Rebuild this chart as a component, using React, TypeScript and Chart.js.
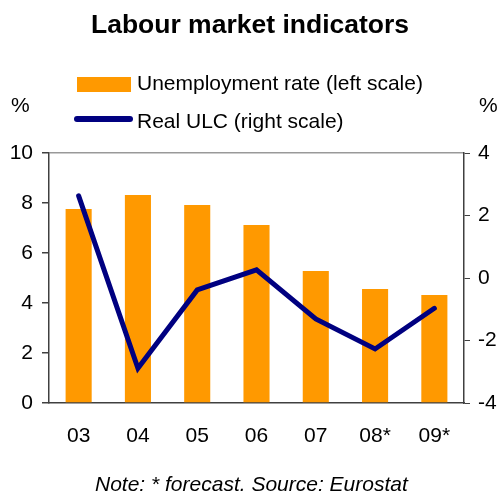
import React, { useEffect, useRef } from "react";
import { Chart, registerables } from "chart.js";

Chart.register(...registerables);

const categories = ["03", "04", "05", "06", "07", "08*", "09*"];
const unemploymentRate = [7.76, 8.32, 7.92, 7.12, 5.28, 4.56, 4.32];
const realULC = [2.63, -2.89, -0.38, 0.26, -1.31, -2.27, -0.97];
const leftTicks = [0, 2, 4, 6, 8, 10];
const rightTicks = [-4, -2, 0, 2, 4];

const TITLE = "Labour market indicators";
const LEGEND_BAR = "Unemployment rate (left scale)";
const LEGEND_LINE = "Real ULC (right scale)";
const NOTE = "Note: * forecast. Source: Eurostat";
const FONT = "'Liberation Sans', Arial, sans-serif";
const ORANGE = "#FF9900";
const NAVY = "#000080";
const AXIS = "#404040";

const decorPlugin = {
  id: "decor",
  afterDraw(chart: any) {
    const ctx = chart.ctx as CanvasRenderingContext2D;
    ctx.save();
    ctx.fillStyle = "#000";
    ctx.textBaseline = "alphabetic";
    // title
    ctx.font = `bold 26.5px ${FONT}`;
    ctx.textAlign = "center";
    ctx.fillText(TITLE, 250, 33);
    // legend
    ctx.fillStyle = ORANGE;
    ctx.fillRect(77, 77, 54, 15);
    ctx.strokeStyle = NAVY;
    ctx.lineWidth = 6;
    ctx.lineCap = "round";
    ctx.beginPath();
    ctx.moveTo(77, 119);
    ctx.lineTo(130, 119);
    ctx.stroke();
    ctx.fillStyle = "#000";
    ctx.font = `21px ${FONT}`;
    ctx.textAlign = "left";
    ctx.fillText(LEGEND_BAR, 137, 90);
    ctx.fillText(LEGEND_LINE, 137, 128);
    // units
    ctx.fillText("%", 11, 112);
    ctx.fillText("%", 479, 112);
    // note
    ctx.font = `italic 21px ${FONT}`;
    ctx.fillText(NOTE, 95, 491);
    ctx.restore();
  },
};

export default function App() {
  const ref = useRef<HTMLCanvasElement>(null);
  useEffect(() => {
    if (!ref.current) return;
    const chart = new Chart(ref.current, {
      type: "bar",
      data: {
        labels: categories,
        datasets: [
          {
            type: "line",
            label: LEGEND_LINE,
            data: realULC,
            yAxisID: "y1",
            borderColor: NAVY,
            backgroundColor: NAVY,
            borderWidth: 5,
            pointRadius: 0,
            tension: 0,
            borderCapStyle: "round",
            borderJoinStyle: "miter",
            order: 0,
          } as any,
          {
            type: "bar",
            label: LEGEND_BAR,
            data: unemploymentRate,
            yAxisID: "y",
            backgroundColor: ORANGE,
            borderWidth: 0,
            categoryPercentage: 1,
            barPercentage: 0.44,
            order: 1,
          } as any,
        ],
      },
      options: {
        animation: false,
        responsive: false,
        maintainAspectRatio: false,
        layout: { padding: { top: 153, left: 0, right: 0, bottom: 0 } },
        plugins: {
          legend: { display: false },
          title: { display: false },
          tooltip: { enabled: false },
        },
        scales: {
          x: {
            grid: { display: false, drawTicks: false },
            border: { display: true, color: AXIS, width: 1.5 },
            ticks: { color: "#000", font: { family: FONT, size: 21 }, padding: 21, maxRotation: 0 },
            afterFit: (s: any) => {
              s.height = 92;
            },
          },
          y: {
            position: "left",
            min: 0,
            max: 10,
            afterBuildTicks: (s: any) => {
              s.ticks = leftTicks.map((v) => ({ value: v }));
            },
            grid: {
              color: (c: any) => (c.tick && c.tick.value === 10 ? "#999999" : "rgba(0,0,0,0)"),
              lineWidth: 1.5,
              tickColor: AXIS,
              tickLength: 7,
              drawTicks: true,
            },
            border: { display: true, color: AXIS, width: 1.5 },
            ticks: { color: "#000", font: { family: FONT, size: 21 }, padding: 9 },
            afterFit: (s: any) => {
              s.width = 49;
            },
          },
          y1: {
            position: "right",
            min: -4,
            max: 4,
            afterBuildTicks: (s: any) => {
              s.ticks = rightTicks.map((v) => ({ value: v }));
            },
            grid: {
              drawOnChartArea: false,
              tickColor: AXIS,
              tickLength: 6,
              drawTicks: true,
            },
            border: { display: true, color: AXIS, width: 1.5 },
            ticks: { color: "#000", font: { family: FONT, size: 21 }, padding: 8 },
            afterFit: (s: any) => {
              s.width = 37;
            },
          },
        },
      },
      plugins: [decorPlugin],
    });
    return () => chart.destroy();
  }, []);
  return (
    <div style={{ position: "absolute", left: 0, top: 0, width: 501, height: 495, background: "#fff" }}>
      <canvas ref={ref} width={501} height={495} style={{ width: 501, height: 495, display: "block" }} />
    </div>
  );
}
